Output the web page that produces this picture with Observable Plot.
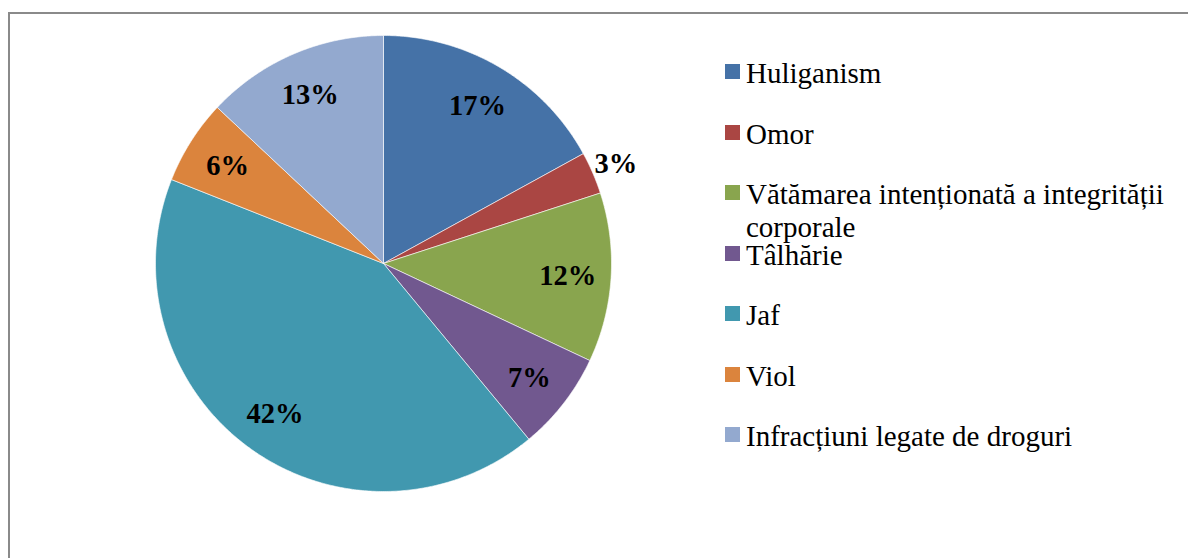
<!DOCTYPE html>
<html><head><meta charset="utf-8">
<script src="https://cdn.jsdelivr.net/npm/d3@7"></script>
<script src="https://cdn.jsdelivr.net/npm/@observablehq/plot@0.6"></script>
<style>
body{margin:0;background:#fff;}
#wrap{position:relative;width:1188px;height:558px;overflow:hidden;}
#chart{position:absolute;left:0;top:0;}
#frame{position:absolute;left:8px;top:12px;width:1300px;height:700px;border-left:2px solid #8a8a8a;border-top:2px solid #8a8a8a;z-index:2;pointer-events:none;}
#legend{position:absolute;left:725px;top:0;font-family:'Liberation Serif','Times New Roman',serif;font-size:29px;color:#000;z-index:3;}
.item{position:absolute;left:0;width:460px;line-height:33px;}
.sw{position:absolute;left:0;top:7px;width:15px;height:15px;}
.lt{margin-left:21px;width:432px;display:block;}
</style></head>
<body>
<div id="wrap"><div id="chart"></div><div id="frame"></div><div id="legend"></div></div>
<script>
const categories = ["Huliganism","Omor","Vătămarea intenționată a integrității corporale","Tâlhărie","Jaf","Viol","Infracțiuni legate de droguri"];
const values = [17, 3, 12, 7, 42, 6, 13];
const labels = ["17%","3%","12%","7%","42%","6%","13%"];
const colors = ["#4572A7","#AA4643","#89A54E","#71588F","#4198AF","#DB843D","#93A9CF"];

const W = 1188, H = 558, CX = 383, CY = 263, R = 228;
const FONT = "'Liberation Serif','Times New Roman',serif";
const total = d3.sum(values);
let acc = 0;
const slices = values.map((v, i) => {
  const a0 = acc / total * 2 * Math.PI; acc += v;
  const a1 = acc / total * 2 * Math.PI;
  return {name: categories[i], label: labels[i], a0, a1, mid: (a0 + a1) / 2, share: v / total};
});
const pts = [];
for (const s of slices) {
  pts.push({name: s.name, x: 0, y: 0});
  const n = Math.max(2, Math.ceil((s.a1 - s.a0) / (Math.PI / 360)));
  for (let k = 0; k <= n; k++) {
    const a = s.a0 + (s.a1 - s.a0) * k / n;
    pts.push({name: s.name, x: Math.sin(a), y: Math.cos(a)});
  }
  pts.push({name: s.name, x: 0, y: 0});
}
const lab = slices.map(s => {
  const k = s.share < 0.05 ? 1.11 : 0.81;
  return {label: s.label, x: Math.sin(s.mid) * k, y: Math.cos(s.mid) * k};
});

const plot = Plot.plot({
  width: W, height: H,
  marginTop: 0, marginRight: 0, marginBottom: 0, marginLeft: 0,
  style: {background: "transparent"},
  x: {domain: [-CX / R, (W - CX) / R], axis: null},
  y: {domain: [-(H - CY) / R, CY / R], axis: null},
  color: {domain: categories, range: colors},
  marks: [
    Plot.line(pts, {x: "x", y: "y", z: "name", fill: "name", stroke: "white", strokeWidth: 0.6, curve: "linear"}),
    Plot.text(lab, {x: "x", y: "y", text: "label", fontSize: 28.5, fontWeight: "bold",
      fontFamily: FONT, fill: "#000", textAnchor: "middle", dy: 1})
  ]
});
document.getElementById("chart").appendChild(plot);

const leg = document.getElementById("legend");
categories.forEach((c, i) => {
  const baseline = 83 + i * 60.5;
  const it = document.createElement("div");
  it.className = "item";
  it.style.top = (baseline - 26) + "px";
  const sw = document.createElement("div");
  sw.className = "sw"; sw.style.background = colors[i];
  const t = document.createElement("span");
  t.className = "lt"; t.textContent = c;
  it.appendChild(sw); it.appendChild(t);
  leg.appendChild(it);
});
</script>
</body></html>
